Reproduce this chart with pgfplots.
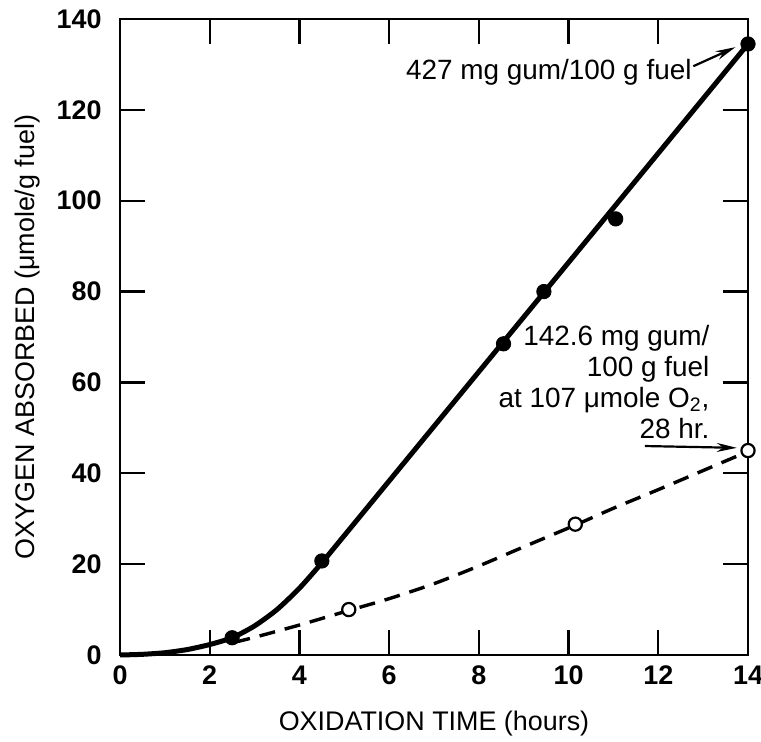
\documentclass[border=0pt]{standalone}
\usepackage{fontspec}
\setmainfont{Liberation Sans}
\usepackage{pgfplots}
\pgfplotsset{compat=1.18}
\usetikzlibrary{arrows.meta}
\begin{document}
\begin{tikzpicture}
\begin{axis}[
  scale only axis, width=314bp, height=318bp,
  at={(0,0)}, anchor=south west,
  xmin=0, xmax=14, ymin=0, ymax=140,
  xtick={0,2,...,14}, ytick={0,20,...,140},
  tick align=inside, major tick length=12.5bp,
  axis line style={line width=1.3bp},
  every tick/.style={line width=1.1bp, black},
  tick label style={font=\fontsize{13.5}{15}\selectfont\bfseries},
  /pgf/number format/assume math mode=true,
  xticklabel style={yshift=-2bp},
  yticklabel style={xshift=-5.7bp},
  clip=false,
  xlabel={OXIDATION TIME (hours)},
  ylabel={OXYGEN ABSORBED (μmole/g fuel)},
  label style={font=\fontsize{13.5}{16}\selectfont},
  xlabel style={at={(axis description cs:0.5,-0.107)}, anchor=center},
  ylabel style={at={(axis description cs:-0.148,0.5)}, anchor=center},
]
% solid curve
\addplot[black, line width=2.5bp, smooth, tension=0.4, mark=none] coordinates {
  (0,0) (0.5,0.15) (1,0.5) (1.5,1.2) (2,2.3) (2.5,3.8) (3,6.4) (3.5,10.0) (4,14.7) (4.5,20.3) (5,26.3) (5.5,32.3) (14,134.5)
};
% dashed curve
\addplot[black, line width=1.7bp, dash pattern=on 8bp off 5bp, smooth, mark=none] coordinates {
  (2.55,2.8) (3,3.9) (4,6.6) (5.1,9.8) (6,12.4) (7,15.7) (8,19.6) (9,23.8) (10.15,28.6) (11,32.3) (12,36.4) (13,40.6) (14,44.8)
};
% solid points
\addplot[only marks, mark=*, mark size=3.6bp, black] coordinates {
  (2.5,3.8) (4.5,20.7) (8.55,68.5) (9.45,80) (11.05,96) (14,134.5)
};
% open points
\addplot[only marks, mark=*, mark size=3.3bp, black, line width=1.1bp, mark options={fill=white, draw=black}] coordinates {
  (5.1,10) (10.15,28.8) (14,45)
};
\node[anchor=east, font=\fontsize{14}{16}\selectfont, inner sep=0pt] at (axis cs:12.75,128.3) {427 mg gum/100 g fuel};
\draw[line width=1.1bp, -{Stealth[length=10bp, width=4.5bp]}] (axis cs:12.78,129.6) -- (axis cs:13.72,133.8);
\node[anchor=north east, align=right, font=\fontsize{14}{15.5}\selectfont, inner sep=0pt] at (axis cs:13.15,72.6)
  {142.6 mg gum/\\100 g fuel\\at 107 μmole O\textsubscript{2},\\28 hr.};
\draw[line width=1.1bp, -{Stealth[length=10bp, width=4.5bp]}] (axis cs:11.7,46) -- (axis cs:13.75,45.6);
\end{axis}
\pgfresetboundingbox
\useasboundingbox (-60bp,-43.5bp) rectangle (320.5bp,327.5bp);
\end{tikzpicture}
\end{document}
